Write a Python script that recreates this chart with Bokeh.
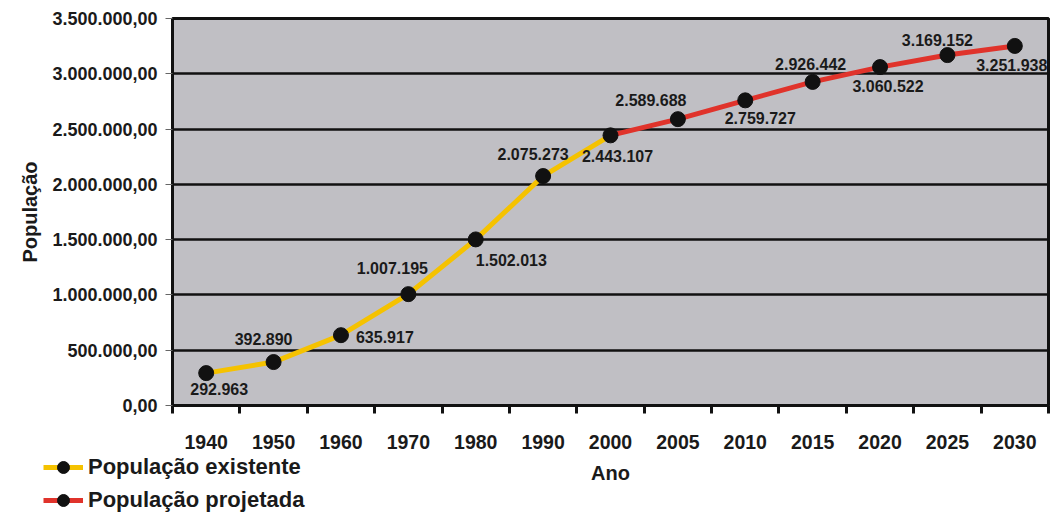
from bokeh.plotting import figure
from bokeh.layouts import column, row
from bokeh.models import (Range1d, FixedTicker, Legend, LegendItem, ColumnDataSource, Label)
from bokeh.core.properties import value
from bokeh.embed import file_html
from bokeh.resources import INLINE

# ---- data ----
years = ["1940", "1950", "1960", "1970", "1980", "1990", "2000",
         "2005", "2010", "2015", "2020", "2025", "2030"]
pop_existente = [292963, 392890, 635917, 1007195, 1502013, 2075273, 2443107]
pop_projetada = [2443107, 2589688, 2759727, 2926442, 3060522, 3169152, 3251938]
y_ticks = [0, 500000, 1000000, 1500000, 2000000, 2500000, 3000000, 3500000]

# ---- styles ----
FONT = "Liberation Sans"
TXT = "#1a1a1a"
YELLOW = "#f5c200"
RED = "#e0332b"
DOT = "#111111"
label_dx = [13, -10, 15, -16, 0, -10, 7, -27, 15, -2, 8, -10, -3]
label_dy = [16, -23, 2, -26, 21, -22, 21, -19, 18, -18, 19, -15, 19]
label_align = ["center", "center", "left", "center", "left", "center", "center",
               "center", "center", "center", "center", "center", "center"]

W = 1050


def fmt_int(v):
    return f"{v:,}".replace(",", ".")


def fmt_dec(v):
    return f"{v:,.2f}".replace(",", "X").replace(".", ",").replace("X", ".")


n = len(years)
x_ex = [i + 0.5 for i in range(len(pop_existente))]
x_pr = [i + 0.5 for i in range(len(pop_existente) - 1, n)]

p = figure(width=W, height=452, output_backend="svg", toolbar_location=None,
           x_range=Range1d(0, n), y_range=Range1d(0, 3500000),
           min_border_left=172, min_border_right=2, min_border_top=18,
           min_border_bottom=47)
p.border_fill_color = "white"
p.background_fill_color = "#c0bfc4"
p.outline_line_color = "#111111"
p.outline_line_width = 3

# grid
p.xgrid.visible = False
p.ygrid.grid_line_color = "#111111"
p.ygrid.grid_line_width = 2.5

# x axis
xa = p.xaxis[0]
xa.ticker = FixedTicker(ticks=[i + 0.5 for i in range(n)],
                        minor_ticks=list(range(n + 1)))
xa.major_label_overrides = {i + 0.5: years[i] for i in range(n)}
xa.major_tick_out = 0
xa.major_tick_in = 0
xa.minor_tick_out = 8
xa.minor_tick_in = 0
xa.minor_tick_line_color = "#111111"
xa.minor_tick_line_width = 3
xa.axis_line_color = "#111111"
xa.axis_line_width = 3
xa.major_label_standoff = 21
xa.major_label_text_font = FONT
xa.major_label_text_font_style = "bold"
xa.major_label_text_font_size = "19.5px"
xa.major_label_text_color = TXT

# y axis
ya = p.yaxis[0]
ya.ticker = FixedTicker(ticks=y_ticks)
ya.major_label_overrides = {t: fmt_dec(t) for t in y_ticks}
ya.major_tick_out = 7
ya.major_tick_in = 0
ya.major_tick_line_color = "#666666"
ya.major_tick_line_width = 1
ya.minor_tick_line_color = None
ya.axis_line_color = "#111111"
ya.axis_line_width = 3
ya.major_label_standoff = 8
ya.major_label_text_font = FONT
ya.major_label_text_font_style = "bold"
ya.major_label_text_font_size = "18px"
ya.major_label_text_color = TXT
ya.axis_label = "População"
ya.axis_label_text_font = FONT
ya.axis_label_text_font_style = "bold"
ya.axis_label_text_font_size = "20px"
ya.axis_label_text_color = TXT
ya.axis_label_standoff = 8

# lines
p.line(x_ex, pop_existente, line_color=YELLOW, line_width=5)
p.line(x_pr, pop_projetada, line_color=RED, line_width=5)
p.scatter(x_ex, pop_existente, size=15, fill_color=DOT, line_color=DOT)
p.scatter(x_pr[1:], pop_projetada[1:], size=15, fill_color=DOT, line_color=DOT)

# data labels
all_vals = pop_existente + pop_projetada[1:]
src = ColumnDataSource(dict(
    x=[i + 0.5 for i in range(n)], y=all_vals,
    t=[fmt_int(v) for v in all_vals],
    dx=label_dx, dy=label_dy, al=label_align))
p.text(x="x", y="y", text="t", x_offset="dx", y_offset="dy", source=src,
       text_align="al", text_baseline="middle",
       text_font=value(FONT), text_font_style="bold", text_font_size="16px",
       text_color=TXT)

# ---- bottom strip: x-axis title and legend ----
H2 = 65
p2 = figure(width=W, height=H2, output_backend="svg", toolbar_location=None,
            x_range=Range1d(-10, -9), y_range=Range1d(-10, -9),
            min_border_left=0, min_border_right=0, min_border_top=0,
            min_border_bottom=0)
p2.axis.visible = False
p2.grid.visible = False
p2.outline_line_color = None
p2.background_fill_color = "white"
p2.border_fill_color = "white"

# legend proxies (same series, kept outside this strip's visible ranges)
lg1 = p2.line(x_ex, pop_existente, line_color=YELLOW, line_width=5)
sc1 = p2.scatter(x_ex, pop_existente, size=15, fill_color=DOT, line_color=DOT)
lg2 = p2.line(x_pr, pop_projetada, line_color=RED, line_width=5)
sc2 = p2.scatter(x_pr, pop_projetada, size=15, fill_color=DOT, line_color=DOT)

legend = Legend(items=[
    LegendItem(label="População existente", renderers=[lg1, sc1]),
    LegendItem(label="População projetada", renderers=[lg2, sc2]),
], location=(43, 2))
legend.background_fill_alpha = 0
legend.border_line_color = None
legend.padding = 0
legend.margin = 0
legend.spacing = 3
legend.glyph_width = 40
legend.glyph_height = 30
legend.label_height = 30
legend.label_standoff = 5
legend.label_text_font = FONT
legend.label_text_font_style = "bold"
legend.label_text_font_size = "22px"
legend.label_text_color = TXT
p2.add_layout(legend, "center")

p2.add_layout(Label(x=610, y=H2 - 20, x_units="screen", y_units="screen",
                    text="Ano", text_align="center", text_baseline="middle",
                    text_font=FONT, text_font_style="bold",
                    text_font_size="20px", text_color=TXT))

layout = column(p, row(p2), spacing=0)
open("out.html", "w").write(file_html(layout, INLINE))
